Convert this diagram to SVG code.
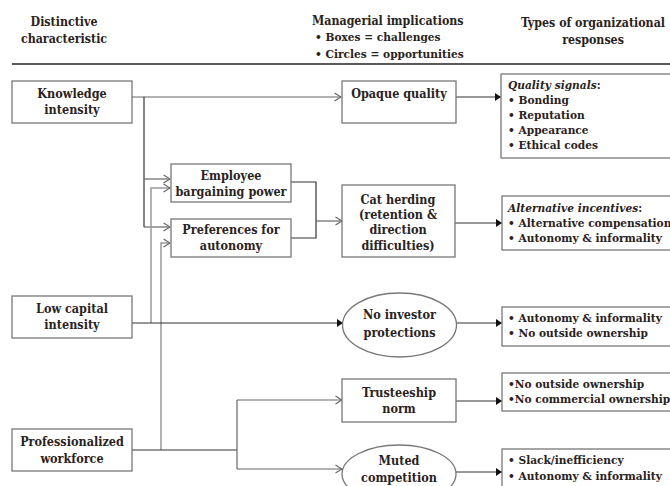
<svg xmlns="http://www.w3.org/2000/svg" width="670" height="486" viewBox="0 0 670 486">
<defs>
<style>
text{font-family:"DejaVu Serif Condensed","DejaVu Serif","Liberation Serif",serif;font-stretch:condensed;font-weight:bold;font-size:12.5px;fill:#2a221c;}
.hd{font-size:12.3px;}
.hb{font-size:11.8px;}
.r{font-size:11.8px;}
.c{text-anchor:middle;}
.it{font-style:italic;}
.box{fill:#fff;stroke:#777;stroke-width:1.3;}
.ln{fill:none;stroke:#666;stroke-width:1.2;}
.lg{fill:none;stroke:#999;stroke-width:1.5;}
.ld{fill:none;stroke:#333;stroke-width:1.2;}
</style>
<marker id="open" viewBox="0 0 8 10" refX="7.5" refY="5" markerWidth="8" markerHeight="10" markerUnits="userSpaceOnUse" orient="auto">
<path d="M1,1 L7.5,5 L1,9" fill="none" stroke="#666" stroke-width="1.2"/>
</marker>
<marker id="fill" viewBox="0 0 6 8" refX="6" refY="4" markerWidth="6" markerHeight="8" markerUnits="userSpaceOnUse" orient="auto">
<path d="M0,0 L6,4 L0,8 Z" fill="#111"/>
</marker>
</defs>
<rect width="670" height="486" fill="#fff"/>

<g id="headers">
<text class="hd c" x="64" y="26">Distinctive</text>
<text class="hd c" x="64" y="43">characteristic</text>
<text class="hd" x="312" y="25">Managerial implications</text>
<text class="hb" x="315" y="41">• Boxes = challenges</text>
<text class="hb" x="315" y="58">• Circles = opportunities</text>
<text class="hd c" x="593" y="27">Types of organizational</text>
<text class="hd c" x="593" y="44">responses</text>
<line x1="12" y1="64" x2="670" y2="64" stroke="#222" stroke-width="1.6"/>
</g>

<g id="connectors">
<path class="ln" d="M132,97 H341" marker-end="url(#open)"/>
<path class="ld" d="M144,97 V227"/>
<path class="ln" d="M144,179 H170" marker-end="url(#open)"/>
<path class="ln" d="M144,227 H170" marker-end="url(#open)"/>
<path class="lg" d="M151,323 V188 H170" marker-end="url(#open)"/>
<path class="lg" d="M161,450 V243 H170" marker-end="url(#open)"/>
<path class="ld" d="M132,323 H343" marker-end="url(#fill)"/>
<path class="ld" d="M132,450 H237"/>
<path class="ln" d="M237,400 V469"/>
<path class="ln" d="M237,400 H342" marker-end="url(#open)"/>
<path class="ln" d="M237,469 H342" marker-end="url(#open)"/>
<path class="ld" d="M291,182 H316 V238 H291"/>
<path class="ln" d="M316,221 H342" marker-end="url(#open)"/>
<path class="ld" d="M456,97 H501" marker-end="url(#fill)"/>
<path class="ld" d="M455,223 H502" marker-end="url(#fill)"/>
<path class="ld" d="M456,323 H502" marker-end="url(#fill)"/>
<path class="ld" d="M456,401 H502" marker-end="url(#fill)"/>
<path class="ld" d="M456,472 H502" marker-end="url(#fill)"/>
</g>

<g id="knowledge-intensity">
<rect class="box" x="12" y="81" width="120" height="42"/>
<text class="c" x="72" y="98">Knowledge</text>
<text class="c" x="72" y="114">intensity</text>
</g>
<g id="low-capital-intensity">
<rect class="box" x="12" y="296" width="120" height="42"/>
<text class="c" x="72" y="313">Low capital</text>
<text class="c" x="72" y="329">intensity</text>
</g>
<g id="professionalized-workforce">
<rect class="box" x="12" y="429" width="120" height="42"/>
<text class="c" x="72" y="446">Professionalized</text>
<text class="c" x="72" y="463">workforce</text>
</g>
<g id="employee-bargaining-power">
<rect class="box" x="171" y="164" width="120" height="38"/>
<text class="c" x="231" y="180">Employee</text>
<text class="c" x="231" y="196">bargaining power</text>
</g>
<g id="preferences-for-autonomy">
<rect class="box" x="171" y="219" width="120" height="38"/>
<text class="c" x="231" y="234">Preferences for</text>
<text class="c" x="231" y="250">autonomy</text>
</g>
<g id="opaque-quality">
<rect class="box" x="342" y="81" width="114" height="42"/>
<text class="c" x="399" y="98">Opaque quality</text>
</g>
<g id="cat-herding">
<rect class="box" x="342" y="185" width="113" height="72"/>
<text class="c" x="398" y="204">Cat herding</text>
<text class="c" x="398" y="219">(retention &amp;</text>
<text class="c" x="398" y="234">direction</text>
<text class="c" x="398" y="250">difficulties)</text>
</g>
<g id="no-investor-protections">
<ellipse class="box" cx="399.5" cy="325" rx="57" ry="32"/>
<text class="c" x="399.5" y="319">No investor</text>
<text class="c" x="399.5" y="337">protections</text>
</g>
<g id="trusteeship-norm">
<rect class="box" x="342" y="379" width="114" height="43"/>
<text class="c" x="399" y="397">Trusteeship</text>
<text class="c" x="399" y="413">norm</text>
</g>
<g id="muted-competition">
<ellipse class="box" cx="399" cy="474" rx="57" ry="29"/>
<text class="c" x="399" y="465">Muted</text>
<text class="c" x="399" y="482">competition</text>
</g>
<g id="quality-signals">
<rect class="box" x="501" y="74" width="180" height="84"/>
<text class="r" x="508" y="89"><tspan class="it">Quality signals</tspan>:</text>
<text class="r" x="508" y="104">• Bonding</text>
<text class="r" x="508" y="119">• Reputation</text>
<text class="r" x="508" y="134">• Appearance</text>
<text class="r" x="508" y="149">• Ethical codes</text>
</g>
<g id="alternative-incentives">
<rect class="box" x="502" y="196" width="180" height="54"/>
<text class="r" x="508" y="212"><tspan class="it">Alternative incentives</tspan>:</text>
<text class="r" x="508" y="227">• Alternative compensation</text>
<text class="r" x="508" y="242">• Autonomy &amp; informality</text>
</g>
<g id="investor-responses">
<rect class="box" x="502" y="307" width="180" height="39"/>
<text class="r" x="508" y="322">• Autonomy &amp; informality</text>
<text class="r" x="508" y="337">• No outside ownership</text>
</g>
<g id="trusteeship-responses">
<rect class="box" x="502" y="373" width="180" height="38"/>
<text class="r" x="508" y="388">•No outside ownership</text>
<text class="r" x="508" y="403">•No commercial ownership</text>
</g>
<g id="competition-responses">
<rect class="box" x="502" y="449" width="180" height="50"/>
<text class="r" x="508" y="464">• Slack/inefficiency</text>
<text class="r" x="508" y="480">• Autonomy &amp; informality</text>
</g>
</svg>
